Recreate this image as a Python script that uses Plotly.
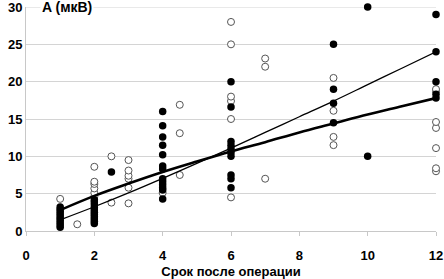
import plotly.graph_objects as go

# закрашенные точки
filled_x = [1] * 10 + [2] * 11 + [2.5] + [4] * 13 + [6] * 10 + [9] * 4 + [10] * 2 + [12] * 5
filled_y = [0.5, 0.8, 1.1, 1.4, 1.7, 2.0, 2.3, 2.6, 2.9, 3.2,
            1.0, 1.3, 1.6, 1.9, 2.2, 2.5, 2.8, 3.1, 3.5, 3.9, 4.2,
            7.9,
            4.3, 5.5, 5.8, 6.2, 6.6, 7.0, 8.3, 8.7, 10.2, 11.5, 12.6, 14.1, 16.0,
            5.8, 7.0, 7.5, 10.0, 10.5, 11.0, 11.5, 12.0, 16.6, 20.0,
            14.5, 17.1, 19.0, 25.0,
            10.0, 30.0,
            17.8, 18.3, 20.0, 24.0, 29.0]

# незакрашенные точки
open_x = [1, 1.5] + [2] * 6 + [2.5] * 2 + [3] * 6 + [4] + [4.5] * 3 + [6] * 6 + [7] * 3 + [9] * 4 + [12] * 7
open_y = [4.3, 0.9,
          4.6, 5.1, 5.7, 6.3, 6.6, 8.6,
          3.8, 10.0,
          3.7, 5.8, 7.0, 7.4, 8.1, 9.5,
          5.1,
          7.5, 13.1, 16.9,
          4.5, 15.0, 17.4, 18.0, 25.0, 28.0,
          7.0, 22.0, 23.1,
          11.5, 12.6, 16.1, 20.5,
          8.0, 8.4, 11.1, 13.8, 14.6, 18.7, 19.0]

# линии тренда (значения)
trend_x = [1, 2, 3, 4, 5, 6, 7, 8, 9, 10, 11, 12]
thin_y = [1.5, 3.25, 5.1, 7.05, 9.05, 11.1, 13.2, 15.3, 17.4, 19.6, 21.8, 24.0]
thick_y = [2.8, 4.7, 6.35, 7.9, 9.3, 10.65, 11.9, 13.2, 14.4, 15.6, 16.7, 17.8]

fig = go.Figure()

fig.add_trace(go.Scatter(x=open_x, y=open_y, mode='markers', cliponaxis=False,
                         marker=dict(size=7, color='white', line=dict(color='#555555', width=1))))
fig.add_trace(go.Scatter(x=filled_x, y=filled_y, mode='markers', cliponaxis=False,
                         marker=dict(size=7.5, color='black')))
fig.add_trace(go.Scatter(x=trend_x, y=thin_y, mode='lines', line=dict(color='black', width=1.3, shape='spline')))
fig.add_trace(go.Scatter(x=trend_x, y=thick_y, mode='lines', line=dict(color='black', width=2.6, shape='spline')))

# верхняя линия сетки
fig.add_shape(type='line', xref='paper', yref='y', x0=0, x1=1, y0=30, y1=30,
              line=dict(color='#d4d4d4', width=1), layer='below')

fig.add_annotation(x=0.4, y=30, xref='x', yref='y', text='A (мкВ)', showarrow=False,
                   xanchor='left', yanchor='middle', bgcolor='white',
                   font=dict(family='Liberation Sans', size=14, color='black', weight='bold'))

fig.update_layout(
    width=444, height=279,
    margin=dict(l=26, r=8, t=7, b=48),
    plot_bgcolor='white', paper_bgcolor='white',
    showlegend=False,
    font=dict(family='Liberation Sans', size=13, color='black'),
)
fig.update_xaxes(range=[0, 12], tickvals=[0, 2, 4, 6, 8, 10, 12], showgrid=False, zeroline=False,
                 showline=True, linecolor='#c8c8c8', ticks='outside', ticklen=4, tickcolor='#c8c8c8',
                 tickfont=dict(size=13, weight='bold'), ticklabeloverflow='allow', automargin=False,
                 ticklabelstandoff=8,
                 title=dict(text='Срок после операции', font=dict(size=13, weight='bold'), standoff=6))
fig.update_yaxes(range=[0, 30], tickvals=[0, 5, 10, 15, 20, 25, 30], showgrid=True, gridcolor='#d4d4d4',
                 zeroline=False, showline=True, linecolor='#c8c8c8', ticks='',
                 tickfont=dict(size=13, weight='bold'), ticklabeloverflow='allow', automargin=False)

# у body по умолчанию отступ 8px — убираем, чтобы картинка легла в окно 444x279
fig.write_html("out.html", config={'displayModeBar': False},
               post_script="document.body.style.margin='0';")
